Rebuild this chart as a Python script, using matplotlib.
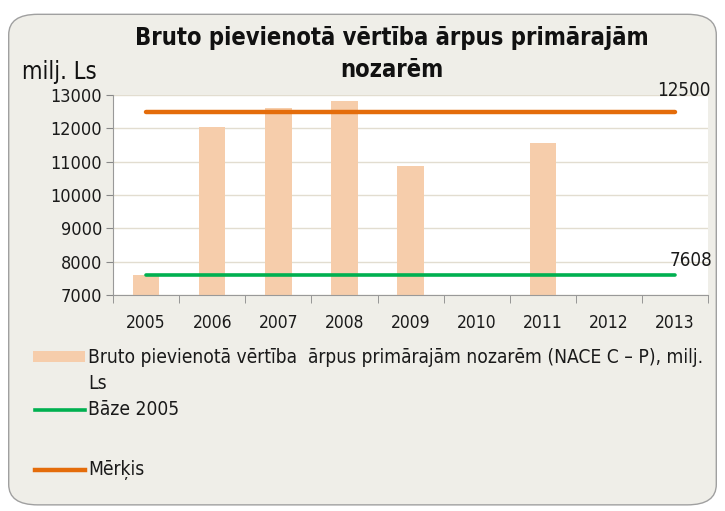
import matplotlib
matplotlib.use('Agg')
import matplotlib.pyplot as plt
from matplotlib.patches import FancyBboxPatch, Rectangle
from matplotlib.lines import Line2D

years = ['2005', '2006', '2007', '2008', '2009', '2010', '2011', '2012', '2013']
gva = [7608, 12050, 12600, 12830, 10870, None, 11560, None, None]
base_2005 = 7608
target = 12500

title = 'Bruto pievienotā vērtība ārpus primārajām\nnozarēm'
unit = 'milj. Ls'
bar_label = ['Bruto pievienotā vērtība  ārpus primārajām nozarēm (NACE C – P), milj.', 'Ls']
base_label = 'Bāze 2005'
target_label = 'Mērķis'

plt.rcParams['font.family'] = ['DejaVu Sans']
plt.rcParams['font.stretch'] = 'condensed'

bg = '#EFEEE8'
bar_col = '#F6CDAB'
green = '#00B050'
orange = '#E46C0A'
txt = '#1A1A1A'

fig = plt.figure(figsize=(7.25, 5.11), dpi=100)
fig.patch.set_facecolor('white')
frame = FancyBboxPatch((0.012, 0.012), 0.976, 0.96, boxstyle='round,pad=0,rounding_size=0.04',
                       transform=fig.transFigure, facecolor=bg, edgecolor='#A0A0A0', lw=1.0,
                       zorder=-10)
fig.patches.append(frame)

ax = fig.add_axes([0.156, 0.4227, 0.8206, 0.3914])
ax.set_facecolor('white')

xs = list(range(len(years)))
bx = [x for x, v in zip(xs, gva) if v is not None]
bv = [v for v in gva if v is not None]
ax.bar(bx, bv, width=0.4, color=bar_col, zorder=2)
ax.plot([xs[0], xs[-1]], [base_2005, base_2005], color=green, lw=2.6, solid_capstyle='round', zorder=3)
ax.plot([xs[0], xs[-1]], [target, target], color=orange, lw=3.2, solid_capstyle='round', zorder=3)

ax.annotate(str(target), (xs[-1], target), textcoords='offset pixels', xytext=(9, 12),
            ha='center', va='bottom', fontsize=13.5, color=txt)
ax.annotate(str(base_2005), (xs[-1], base_2005), textcoords='offset pixels', xytext=(16, 5),
            ha='center', va='bottom', fontsize=13.5, color=txt)

ax.set_ylim(7000, 13000)
ax.set_xlim(-0.5, len(years) - 0.5)
ax.set_yticks(range(7000, 13001, 1000))
ax.tick_params(axis='y', labelsize=13, length=5, color='#888888', labelcolor=txt, pad=3)
ax.set_xticks(xs)
ax.set_xticklabels(years)
ax.set_xticks([x - 0.5 for x in xs] + [xs[-1] + 0.5], minor=True)
ax.tick_params(axis='x', which='major', length=0, labelsize=12.5, labelcolor=txt, pad=14)
ax.tick_params(axis='x', which='minor', length=6, color='#888888')
ax.grid(axis='y', color='#E2DDD0', lw=1.0, zorder=0)
for s in ['top', 'right']:
    ax.spines[s].set_visible(False)
for s in ['left', 'bottom']:
    ax.spines[s].set_color('#999999')

fig.text(0.54, 0.894, title, ha='center', va='center', fontsize=17, fontweight='bold',
         linespacing=1.45, color='#111111')
fig.text(0.03, 0.859, unit, ha='left', va='center', fontsize=17, color='#111111')

# legend drawn by hand to keep the wrapped first entry
fig.patches.append(Rectangle((0.046, 0.292), 0.071, 0.022, transform=fig.transFigure,
                             facecolor=bar_col, edgecolor='none'))
fig.lines.append(Line2D([0.048, 0.117], [0.198, 0.198], transform=fig.transFigure,
                        color=green, lw=2.6))
fig.lines.append(Line2D([0.048, 0.117], [0.081, 0.081], transform=fig.transFigure,
                        color=orange, lw=3.2))
fig.text(0.122, 0.301, bar_label[0], ha='left', va='center', fontsize=13.8, color=txt)
fig.text(0.122, 0.250, bar_label[1], ha='left', va='center', fontsize=13.8, color=txt)
fig.text(0.122, 0.198, base_label, ha='left', va='center', fontsize=13.8, color=txt)
fig.text(0.122, 0.081, target_label, ha='left', va='center', fontsize=13.8, color=txt)

fig.savefig('out.png', dpi=100, facecolor='white')
